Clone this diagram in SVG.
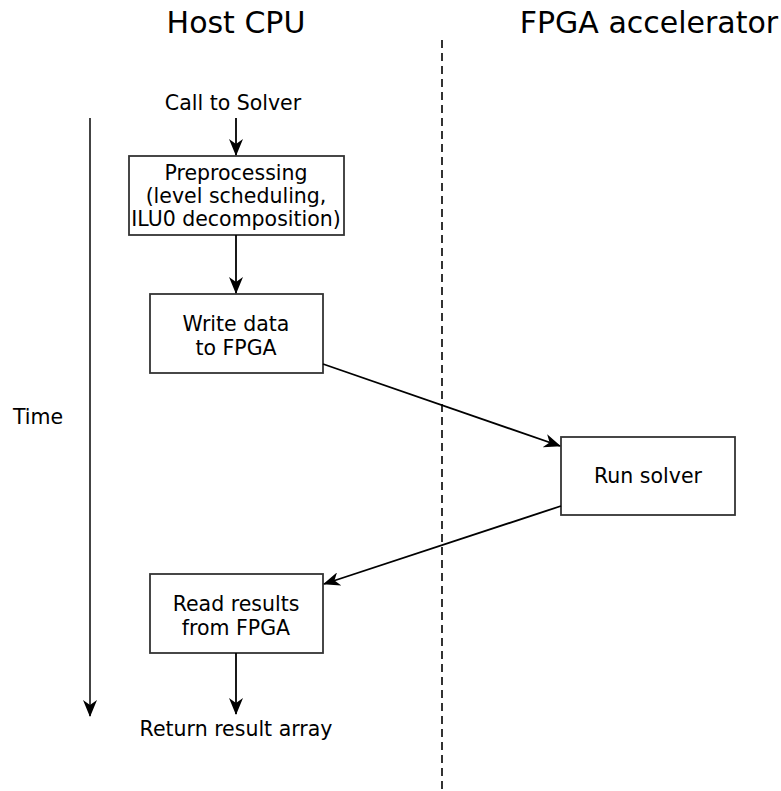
<svg xmlns="http://www.w3.org/2000/svg" width="781" height="791" viewBox="0 0 781 791">
  <style>
    .title { font-family: "DejaVu Sans", sans-serif; font-size: 30px; fill: #000; text-anchor: middle; }
    .lbl { font-family: "DejaVu Sans", sans-serif; font-size: 20.5px; fill: #000; text-anchor: middle; }
    .box { fill: #fff; stroke: #333; stroke-width: 1.8; }
    .edge { fill: none; stroke: #000; stroke-width: 1.8; }
  </style>
  <defs>
    <marker id="arrow" viewBox="0 0 17 14" refX="16" refY="7" markerWidth="17" markerHeight="14" markerUnits="userSpaceOnUse" orient="auto">
      <path d="M0,0 L17,7 L0,14 L5,7 Z" fill="#000"/>
    </marker>
  </defs>

  <rect width="781" height="791" fill="#fff"/>

  <!-- lane titles -->
  <text class="title" x="236" y="33">Host CPU</text>
  <text class="title" x="649" y="33">FPGA accelerator</text>

  <!-- lane divider -->
  <line x1="442" y1="40" x2="442" y2="790" stroke="#000" stroke-width="1.6" stroke-dasharray="8,5"/>

  <!-- time axis -->
  <g id="time-axis">
    <line x1="90" y1="118" x2="90" y2="716" stroke="#444" stroke-width="2" marker-end="url(#arrow)"/>
    <text class="lbl" x="38" y="424">Time</text>
  </g>

  <g id="start">
    <text class="lbl" x="233" y="110">Call to Solver</text>
  </g>

  <g id="preprocessing">
    <rect class="box" x="129" y="156" width="215" height="79"/>
    <text class="lbl" x="236" y="180">Preprocessing</text>
    <text class="lbl" x="236" y="203">(level scheduling,</text>
    <text class="lbl" x="236" y="226">ILU0 decomposition)</text>
  </g>

  <g id="write-data">
    <rect class="box" x="150" y="294" width="173" height="79"/>
    <text class="lbl" x="236" y="331">Write data</text>
    <text class="lbl" x="236" y="355">to FPGA</text>
  </g>

  <g id="run-solver">
    <rect class="box" x="561" y="437" width="174" height="78"/>
    <text class="lbl" x="648" y="483">Run solver</text>
  </g>

  <g id="read-results">
    <rect class="box" x="150" y="574" width="173" height="79"/>
    <text class="lbl" x="236" y="611">Read results</text>
    <text class="lbl" x="236" y="635">from FPGA</text>
  </g>

  <g id="end">
    <text class="lbl" x="236" y="736">Return result array</text>
  </g>

  <g id="connectors">
    <line class="edge" x1="236" y1="118" x2="236" y2="155" marker-end="url(#arrow)"/>
    <line class="edge" x1="236" y1="235" x2="236" y2="293" marker-end="url(#arrow)"/>
    <line class="edge" x1="323" y1="364" x2="560" y2="446" marker-end="url(#arrow)"/>
    <line class="edge" x1="561" y1="506" x2="324" y2="584" marker-end="url(#arrow)"/>
    <line class="edge" x1="236" y1="653" x2="236" y2="714" marker-end="url(#arrow)"/>
  </g>
</svg>
